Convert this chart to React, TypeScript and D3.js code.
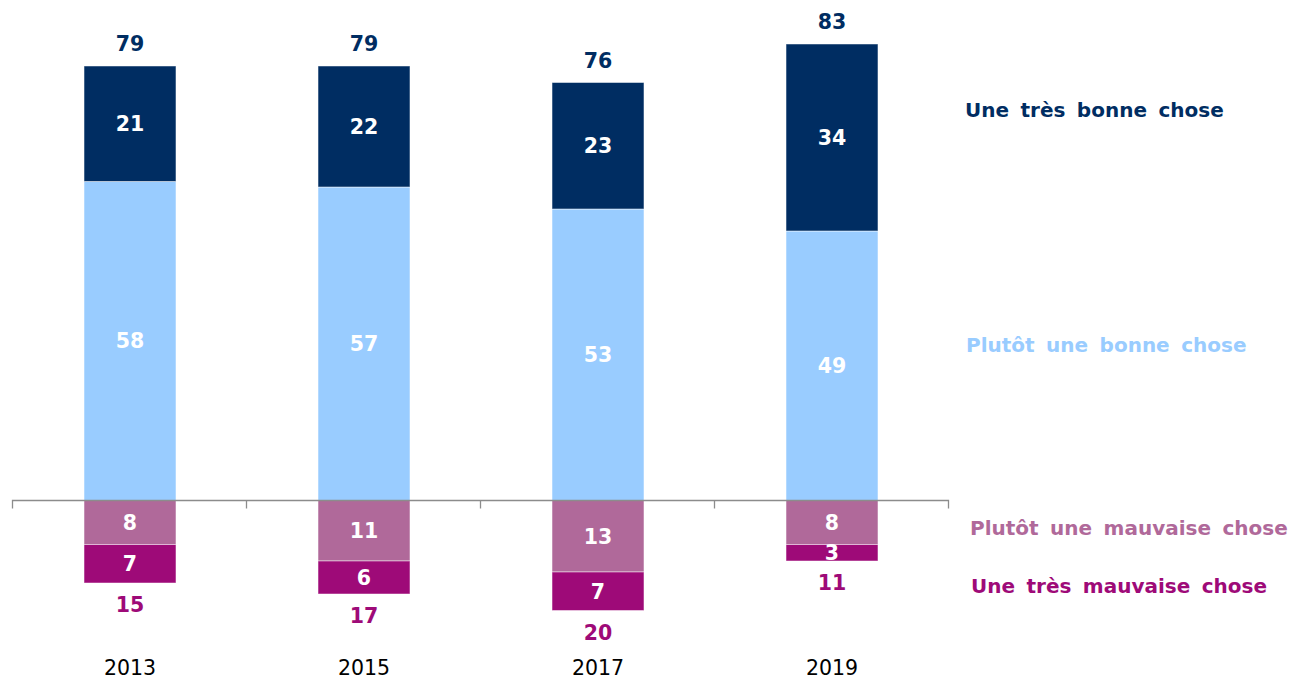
import React from "react";
import * as d3 from "d3";

const years = ["2013", "2015", "2017", "2019"];
const tresBonne = [21, 22, 23, 34];
const plutotBonne = [58, 57, 53, 49];
const plutotMauvaise = [8, 11, 13, 8];
const tresMauvaise = [7, 6, 7, 3];
const totalPositive = [79, 79, 76, 83];
const totalNegative = [15, 17, 20, 11];

const seriesNames = [
  "Une très bonne chose",
  "Plutôt une bonne chose",
  "Plutôt une mauvaise chose",
  "Une très mauvaise chose",
];

const C_NAVY = "#002D62";
const C_LIGHT = "#99CCFF";
const C_MAUVE = "#B0699A";
const C_PURPLE = "#9E0A78";

const W = 1291;
const H = 679;
const FONT = "'DejaVu Sans', Verdana, sans-serif";

export default function App() {
  const x = d3
    .scaleBand<string>()
    .domain(years)
    .range([12.5, 948.5])
    .paddingInner(0.607)
    .paddingOuter(0.3035);
  const y = d3.scaleLinear().domain([-30, 90]).range([665.5, 5.5]);
  const step = x.step();
  const bw = x.bandwidth();

  const posStack = [
    { vals: plutotBonne, color: C_LIGHT },
    { vals: tresBonne, color: C_NAVY },
  ];
  const negStack = [
    { vals: plutotMauvaise, color: C_MAUVE },
    { vals: tresMauvaise, color: C_PURPLE },
  ];

  const rects: any[] = [];
  years.forEach((yr, i) => {
    let acc = 0;
    posStack.forEach((s, k) => {
      const v0 = acc;
      const v1 = acc + s.vals[i];
      acc = v1;
      rects.push({ key: `p${k}-${i}`, x: x(yr)! + 0.5, y0: y(v1), y1: y(v0), color: s.color, v: s.vals[i] });
    });
    acc = 0;
    negStack.forEach((s, k) => {
      const v0 = acc;
      const v1 = acc - s.vals[i];
      acc = v1;
      rects.push({ key: `n${k}-${i}`, x: x(yr)! + 0.5, y0: y(v0), y1: y(v1), color: s.color, v: s.vals[i] });
    });
  });

  const axisY = y(0);
  const tickXs = d3.range(years.length + 1).map((k) => 12.5 + k * step);

  const legend = [
    { name: seriesNames[0], color: C_NAVY, y: 110, x: 965 },
    { name: seriesNames[1], color: C_LIGHT, y: 345, x: 966 },
    { name: seriesNames[2], color: C_MAUVE, y: 528, x: 970 },
    { name: seriesNames[3], color: C_PURPLE, y: 586, x: 971 },
  ];

  return (
    <svg
      width={W}
      height={H}
      style={{ position: "fixed", left: 0, top: 0, background: "#fff" }}
      fontFamily={FONT}
    >
      {rects.map((r) => (
        <g key={r.key}>
          <rect
            x={r.x}
            y={r.y0}
            width={bw}
            height={r.y1 - r.y0}
            fill={r.color}
            stroke="#ffffff"
            strokeOpacity={0.6}
            strokeWidth={0.8}
          />
          <text
            x={r.x + bw / 2}
            y={(r.y0 + r.y1) / 2}
            dy="0.36em"
            textAnchor="middle"
            fill="#fff"
            fontWeight="bold"
            fontSize={20.5}
          >
            {r.v}
          </text>
        </g>
      ))}
      <path
        d={`M${tickXs[0]},${axisY + 8}V${axisY}H${tickXs[tickXs.length - 1]}V${axisY + 8}`}
        fill="none"
        stroke="#8c8c8c"
        strokeWidth={1.3}
      />
      {tickXs.slice(1, -1).map((tx, k) => (
        <line key={k} x1={tx} x2={tx} y1={axisY} y2={axisY + 8} stroke="#8c8c8c" strokeWidth={1.3} />
      ))}
      {years.map((yr, i) => (
        <g key={yr}>
          <text
            x={x(yr)! + 0.5 + bw / 2}
            y={y(totalPositive[i]) - 22}
            dy="0.36em"
            textAnchor="middle"
            fill={C_NAVY}
            fontWeight="bold"
            fontSize={20.5}
          >
            {totalPositive[i]}
          </text>
          <text
            x={x(yr)! + 0.5 + bw / 2}
            y={y(-totalNegative[i]) + 22}
            dy="0.36em"
            textAnchor="middle"
            fill={C_PURPLE}
            fontWeight="bold"
            fontSize={20.5}
          >
            {totalNegative[i]}
          </text>
          <text
            x={x(yr)! + 0.5 + bw / 2}
            y={668}
            dy="0.36em"
            textAnchor="middle"
            fill="#000"
            fontSize={20.5}
          >
            {yr}
          </text>
        </g>
      ))}
      {legend.map((l) => (
        <text
          key={l.name}
          x={l.x}
          y={l.y}
          dy="0.36em"
          fill={l.color}
          fontWeight="bold"
          fontSize={20}
          wordSpacing={4.5}
        >
          {l.name}
        </text>
      ))}
    </svg>
  );
}
